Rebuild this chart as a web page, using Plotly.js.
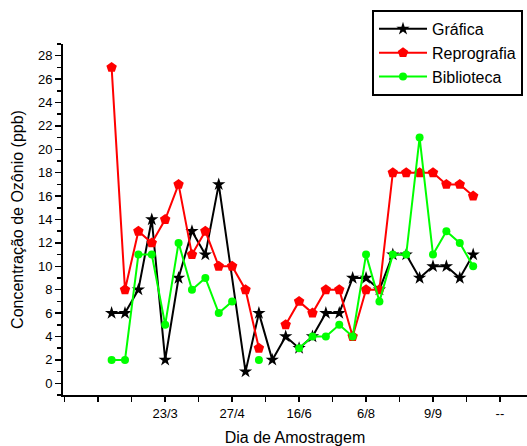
<!DOCTYPE html>
<html>
<head>
<meta charset="utf-8">
<script src="https://cdn.plot.ly/plotly-3.0.1.min.js"></script>
<style>html,body{margin:0;padding:0;background:#fff;}#chart{width:527px;height:446px;}</style>
</head>
<body>
<div id="chart"></div>
<script>
// Series values per sampling (null = no measurement)
const grafica     = [6, 6, 8, 14, 2, 9, 13, 11, 17, null, 1, 6, 2, 4, 3, 4, 6, 6, 9, 9, 8, 11, 11, 9, 10, 10, 9, 11];
const reprografia = [27, 8, 13, 12, 14, 17, 11, 13, 10, 10, 8, 3, null, 5, 7, 6, 8, 8, 4, 8, 8, 18, 18, 18, 18, 17, 17, 16];
const biblioteca  = [2, 2, 11, 11, 5, 12, 8, 9, 6, 7, null, 2, null, null, 3, 4, 4, 5, 4, 11, 7, 11, 11, 21, 11, 13, 12, 10];
const seriesNames = ["Gráfica", "Reprografia", "Biblioteca"];
const tickLabels  = ["23/3", "27/4", "16/6", "6/8", "9/9", "--"];

const xs = grafica.map((_, i) => i);
const FONT = "Liberation Sans, Arial, Helvetica, sans-serif";

const traces = [
  {x: xs, y: grafica, name: seriesNames[0], mode: "lines+markers", connectgaps: true,
   line: {color: "#000000", width: 2}, marker: {symbol: "star", size: 10, color: "#000000"}},
  {x: xs, y: reprografia, name: seriesNames[1], mode: "lines+markers", connectgaps: false,
   line: {color: "#ff0000", width: 2}, marker: {symbol: "pentagon", size: 11, color: "#ff0000"}},
  {x: xs, y: biblioteca, name: seriesNames[2], mode: "lines+markers", connectgaps: false,
   line: {color: "#00ff00", width: 2}, marker: {symbol: "circle", size: 8, color: "#00ff00"}}
];

const tickvals = tickLabels.map((_, k) => 4 + 5 * k);

const layout = {
  width: 527, height: 446,
  margin: {l: 63, r: 0, t: 44, b: 51, pad: 0},
  paper_bgcolor: "#ffffff", plot_bgcolor: "#ffffff",
  font: {family: FONT, size: 13, color: "#000"},
  showlegend: true,
  legend: {
    x: (372 - 63) / 464, y: 1.097, xanchor: "left", yanchor: "top",
    bordercolor: "#000", borderwidth: 2, bgcolor: "#fff",
    font: {family: FONT, size: 16, color: "#000"},
    itemwidth: 48, tracegroupgap: 0
  },
  xaxis: {
    range: [-3.63, 31.02],
    showgrid: false, zeroline: false,
    showline: true, linecolor: "#000", linewidth: 2,
    ticks: "outside", ticklen: 5, tickwidth: 1.5, tickcolor: "#000",
    tickmode: "array", tickvals: tickvals, ticktext: tickLabels,
    tickfont: {family: FONT, size: 13},
    minor: {tick0: 1.5, dtick: 2.5, ticks: "outside", ticklen: 5, tickwidth: 1.5, tickcolor: "#000", showgrid: false},
    title: {text: "Dia de Amostragem", font: {family: FONT, size: 16}, standoff: 13}
  },
  yaxis: {
    range: [-1, 29],
    showgrid: false, zeroline: false,
    showline: true, linecolor: "#000", linewidth: 2,
    ticks: "outside", ticklen: 6, tickwidth: 1.5, tickcolor: "#000",
    tick0: 0, dtick: 2,
    tickfont: {family: FONT, size: 13},
    minor: {tick0: 0, dtick: 1, ticks: "outside", ticklen: 4, tickwidth: 1.5, tickcolor: "#000", showgrid: false},
    title: {text: "Concentração de Ozônio (ppb)", font: {family: FONT, size: 16}, standoff: 10}
  }
};

Plotly.newPlot("chart", traces, layout, {displayModeBar: false, staticPlot: true});
</script>
</body>
</html>
